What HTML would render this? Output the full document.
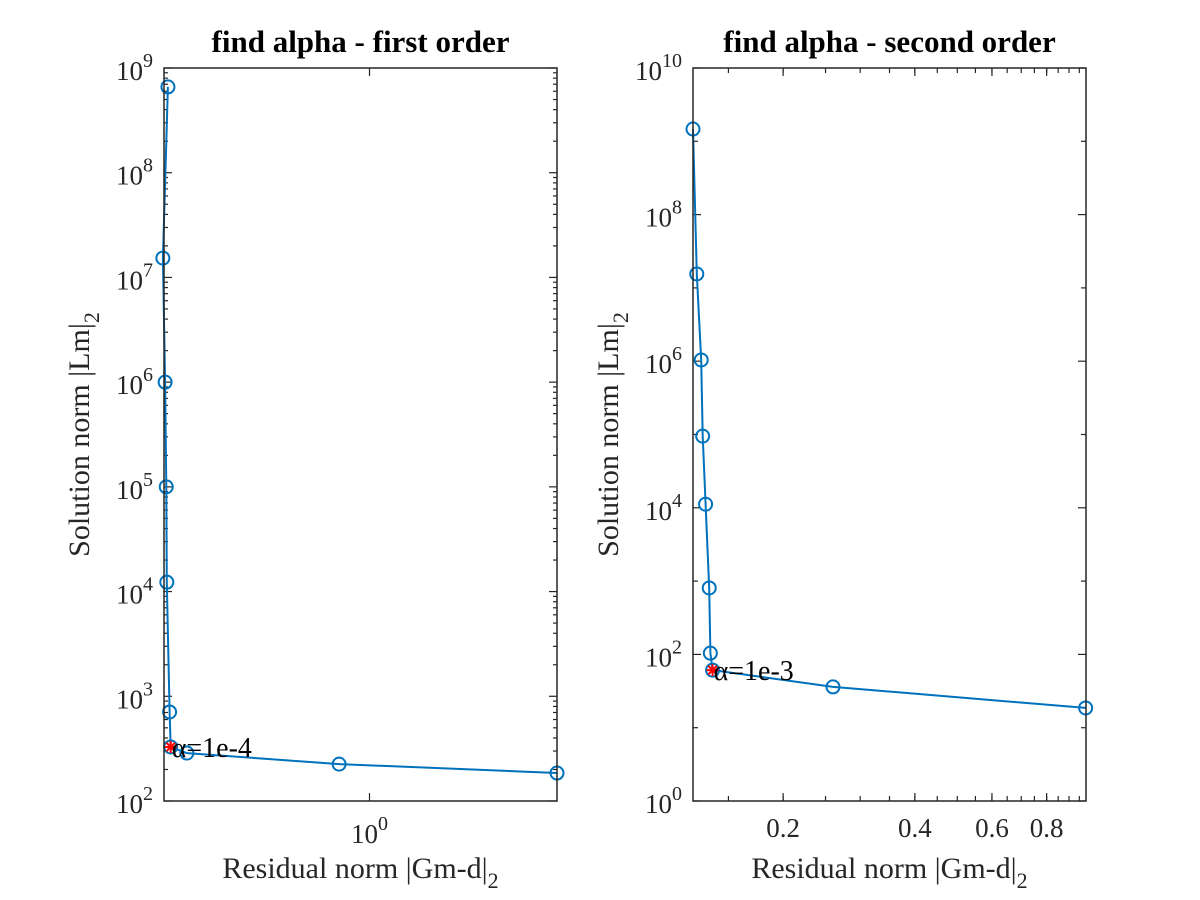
<!DOCTYPE html>
<html><head><meta charset="utf-8"><style>
html,body{margin:0;padding:0;background:#fff;}
svg{display:block;font-family:"Liberation Serif",serif;}
</style></head><body>
<svg id="chart" width="1200" height="900" viewBox="0 0 1200 900" xmlns="http://www.w3.org/2000/svg">
<rect width="1200" height="900" fill="#fff"/>
</svg>
<script>
// Left panel data (first order)
const leftResidual = [0.307, 0.298, 0.302, 0.304, 0.305, 0.310, 0.312, 0.343, 0.837, 3.0];
const leftSolution = [6.6e8, 1.53e7, 1.0e6, 1.0e5, 1.23e4, 708, 328, 287, 225, 185];
const leftBestIndex = 6;
const leftYTicks = [2, 3, 4, 5, 6, 7, 8, 9];
const leftXTicks = [0];
// Right panel data (second order)
const rightResidual = [0.1245, 0.127, 0.130, 0.131, 0.133, 0.1356, 0.1364, 0.138, 0.26, 0.982];
const rightSolution = [1.47e9, 1.55e7, 1.04e6, 9.5e4, 1.12e4, 806, 104, 61, 36, 18.6];
const rightBestIndex = 7;
const rightYTicks = [0, 2, 4, 6, 8, 10];
const rightXTicks = [0.2, 0.4, 0.6, 0.8];

const NS = "http://www.w3.org/2000/svg";
const svg = document.getElementById('chart');
const TXT = '#262626';
function mk(tag, attrs, parent) {
  const e = document.createElementNS(NS, tag);
  for (const k in attrs) e.setAttribute(k, attrs[k]);
  (parent || svg).appendChild(e);
  return e;
}
function logScale(d0, d1, r0, r1) {
  const a = Math.log10(d0), b = Math.log10(d1);
  return v => r0 + (Math.log10(v) - a) / (b - a) * (r1 - r0);
}
function superText(parent, x, y, base, sup, anchor) {
  const t = mk('text', {x: x, y: y, 'font-size': 27, fill: TXT, 'text-anchor': anchor}, parent);
  t.appendChild(document.createTextNode(base));
  const s = mk('tspan', {'font-size': 20, dy: -13}, t);
  s.textContent = sup;
  return t;
}

function panel(o) {
  const g = mk('g', {});
  
  
  const X = logScale(o.xd[0], o.xd[1], o.L, o.R);
  const Y = logScale(o.yd[0], o.yd[1], o.B, o.T);
  for (let p = Math.log10(o.yd[0]); p <= Math.log10(o.yd[1]); p++) {
    const y = Y(Math.pow(10, p));
    const major = o.yTicks.includes(p);
    const len = major ? 8 : 5;
    mk('line', {x1: o.L, x2: o.L + len, y1: y, y2: y, stroke: TXT, 'stroke-width': 1.2}, g);
    mk('line', {x1: o.R, x2: o.R - len, y1: y, y2: y, stroke: TXT, 'stroke-width': 1.2}, g);
    if (o.yMinor && p < Math.log10(o.yd[1])) {
      for (let m = 2; m <= 9; m++) {
        const ym = Y(m * Math.pow(10, p));
        mk('line', {x1: o.L, x2: o.L + 4, y1: ym, y2: ym, stroke: TXT, 'stroke-width': 1.2}, g);
        mk('line', {x1: o.R, x2: o.R - 4, y1: ym, y2: ym, stroke: TXT, 'stroke-width': 1.2}, g);
      }
    }
    if (major) {
      const t = superText(g, o.L - 11, y + 12, '10', String(p), 'end');
      
      
    }
  }
  if (o.xMinor) {
    for (let v = 0.15; v < o.xd[1]; v += 0.05) {
      if (v < o.xd[0]) continue;
      const x = X(v);
      mk('line', {x1: x, x2: x, y1: o.B, y2: o.B - 5, stroke: TXT, 'stroke-width': 1.2}, g);
      mk('line', {x1: x, x2: x, y1: o.T, y2: o.T + 5, stroke: TXT, 'stroke-width': 1.2}, g);
    }
  }
  o.xTicks.forEach(v => {
    const val = o.xPow ? Math.pow(10, v) : v;
    const x = X(val);
    mk('line', {x1: x, x2: x, y1: o.B, y2: o.B - 8, stroke: TXT, 'stroke-width': 1.2}, g);
    mk('line', {x1: x, x2: x, y1: o.T, y2: o.T + 8, stroke: TXT, 'stroke-width': 1.2}, g);
    let t;
    if (o.xPow) t = superText(g, x, o.B + 42, '10', String(v), 'middle');
    else { t = mk('text', {x: x, y: o.B + 36, 'font-size': 27, fill: TXT, 'text-anchor': 'middle'}, g); t.textContent = String(v); }
    
    
  });
  let d = '';
  o.xs.forEach((v, i) => { d += (i ? 'L' : 'M') + X(v).toFixed(1) + ',' + Y(o.ys[i]).toFixed(1); });
  const line = mk('path', {d: d, fill: 'none', stroke: '#0072BD', 'stroke-width': 2}, g);
  
  
  o.xs.forEach((v, i) => {
    const c = mk('circle', {cx: X(v), cy: Y(o.ys[i]), r: 6.5, fill: 'none', stroke: '#0072BD', 'stroke-width': 2}, g);
    
    
  });
  const bx = X(o.xs[o.best]), by = Y(o.ys[o.best]);
  const star = mk('g', {stroke: '#FF0000', 'stroke-width': 2}, g);
  
  
  for (let a = 0; a < 4; a++) {
    const ang = a * Math.PI / 4;
    mk('line', {x1: bx - 6 * Math.cos(ang), y1: by - 6 * Math.sin(ang), x2: bx + 6 * Math.cos(ang), y2: by + 6 * Math.sin(ang)}, star);
  }
  const lab = mk('text', {x: bx + 1, y: by + 10, 'font-size': 28, fill: '#000'}, g);
  lab.textContent = o.alphaLabel;
  
  
  const box = mk('rect', {x: o.L, y: o.T, width: o.R - o.L, height: o.B - o.T, fill: 'none', stroke: TXT, 'stroke-width': 1.5}, g);
  
  
  const cx = (o.L + o.R) / 2;
  const title = mk('text', {x: cx, y: 52, 'font-size': 31, 'font-weight': 'bold', fill: '#000', 'text-anchor': 'middle'}, g);
  title.textContent = o.title;
  
  
  const xl = mk('text', {x: cx, y: 878, 'font-size': 30, fill: TXT, 'text-anchor': 'middle'}, g);
  xl.appendChild(document.createTextNode('Residual norm |Gm-d|'));
  const xs = mk('tspan', {'font-size': 22, dy: 10}, xl); xs.textContent = '2';
  
  
  const yx = o.L - 75, yy = (o.T + o.B) / 2;
  const yl = mk('text', {x: yx, y: yy, 'font-size': 30, fill: TXT, 'text-anchor': 'middle', transform: 'rotate(-90 ' + yx + ' ' + yy + ')'}, g);
  yl.appendChild(document.createTextNode('Solution norm |Lm|'));
  const ys = mk('tspan', {'font-size': 22, dy: 10}, yl); ys.textContent = '2';
  
  
}

panel({name: 'first-order-panel', L: 164, R: 557, T: 68, B: 801, xd: [0.3, 3.0], yd: [1e2, 1e9],
  yTicks: leftYTicks, yMinor: true, xTicks: leftXTicks, xPow: true, xMinor: false,
  xs: leftResidual, ys: leftSolution, best: leftBestIndex, alphaLabel: 'α=1e-4', title: 'find alpha - first order'});
panel({name: 'second-order-panel', L: 693, R: 1086, T: 68, B: 801, xd: [0.1245, 0.984], yd: [1, 1e10],
  yTicks: rightYTicks, yMinor: false, xTicks: rightXTicks, xPow: false, xMinor: true,
  xs: rightResidual, ys: rightSolution, best: rightBestIndex, alphaLabel: 'α=1e-3', title: 'find alpha - second order'});
</script>
</body></html>
